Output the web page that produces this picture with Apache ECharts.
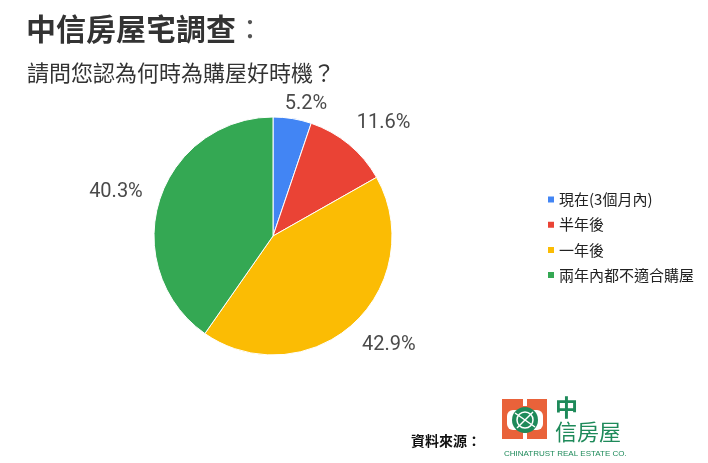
<!DOCTYPE html>
<html>
<head>
<meta charset="utf-8">
<script src="https://cdn.jsdelivr.net/npm/echarts@6/dist/echarts.min.js"></script>
<style>html,body{margin:0;padding:0;background:#fff;}#c{width:708px;height:463px;}</style>
</head>
<body>
<div id="c"></div>
<script>
const titleText = '中信房屋宅調查';
const titleColon = '：';
const subtitleText = '請問您認為何時為購屋好時機？';
const categories = ['現在(3個月內)', '半年後', '一年後', '兩年內都不適合購屋'];
const values = [5.2, 11.6, 42.9, 40.3];
const colors = ['#4285F4', '#EA4335', '#FBBC04', '#34A853'];
const sourceLabel = '資料來源：';
const logoMain1 = '中';
const logoMain2 = '信房屋';
const logoEn = 'CHINATRUST REAL ESTATE CO.';

const CJK = '"Noto Sans CJK TC","Noto Sans CJK SC",sans-serif';
const chart = echarts.init(document.getElementById('c'), null, {renderer: 'canvas'});
const orange = '#E9623A';
const lgreen = '#1E8A5A';

chart.setOption({
  backgroundColor: '#fff',
  animation: false,
  color: colors,
  title: [
    {text: '{a|' + titleText + '}{b|' + titleColon + '}', left: 21, top: 9,
     textStyle: {fontFamily: CJK, fontSize: 30, fontWeight: 'bold', color: '#333',
       rich: {
         a: {fontFamily: CJK, fontSize: 30, fontWeight: 'bold', color: '#333'},
         b: {fontFamily: CJK, fontSize: 28, fontWeight: 'normal', color: '#555'}
       }}},
    {text: subtitleText, left: 22, top: 57,
     textStyle: {fontFamily: CJK, fontSize: 22, fontWeight: 'normal', color: '#333'}}
  ],
  legend: {
    orient: 'vertical', left: 541, top: 187,
    itemWidth: 8, itemHeight: 8, itemGap: 10.2, icon: 'rect',
    textStyle: {fontFamily: CJK, fontSize: 15, color: '#222', padding: [0,0,0,-1]},
    data: categories
  },
  series: [{
    type: 'pie',
    center: [273, 236],
    radius: 119,
    startAngle: 90,
    clockwise: true,
    avoidLabelOverlap: false,
    itemStyle: {borderColor: '#fff', borderWidth: 1},
    label: {
      show: true, position: 'outside',
      formatter: p => p.value.toFixed(1) + '%',
      fontFamily: 'Roboto, sans-serif', fontSize: 20, color: '#4a4a4a',
      distanceToLabelLine: 5
    },
    labelLine: {show: false, length: 28, length2: -15},
    emphasis: {disabled: true},
    data: categories.map((n, i) => i === 0
      ? {name: n, value: values[i], labelLine: {length: 15, length2: -15}}
      : {name: n, value: values[i]})
  }],
  graphic: [
    {type: 'text', left: 411, top: 434,
     style: {text: sourceLabel, font: 'bold 14px ' + CJK, fill: '#111'}},
    // logo block
    {type: 'group', left: 502, top: 399, children: [
      {type: 'rect', shape: {x: 0, y: 0, width: 45, height: 40}, style: {fill: orange}},
      {type: 'rect', shape: {x: 21, y: 0, width: 4, height: 7}, style: {fill: '#fff'}},
      {type: 'rect', shape: {x: 21, y: 34, width: 4, height: 6}, style: {fill: '#fff'}},
      {type: 'rect', shape: {x: 5, y: 11, width: 36, height: 20, r: 6}, style: {fill: '#fff'}},
      {type: 'circle', shape: {cx: 23, cy: 21, r: 13}, style: {fill: lgreen}},
      {type: 'circle', shape: {cx: 23, cy: 21, r: 8}, style: {fill: 'none', stroke: '#fff', lineWidth: 1.5}},
      {type: 'line', shape: {x1: 13, y1: 14, x2: 33, y2: 28}, style: {stroke: '#fff', lineWidth: 1.5}},
      {type: 'line', shape: {x1: 15, y1: 29, x2: 31, y2: 13}, style: {stroke: '#fff', lineWidth: 1.5}}
    ]},
    {type: 'text', left: 555, top: 396,
     style: {text: logoMain1, font: 'bold 23px ' + CJK, fill: lgreen}},
    {type: 'text', left: 555, top: 421,
     style: {text: logoMain2, font: '22px ' + CJK, fill: lgreen}},
    {type: 'text', left: 504, top: 450,
     style: {text: logoEn, font: '8px "Liberation Sans", sans-serif', fill: lgreen}}
  ]
});
</script>
</body>
</html>
